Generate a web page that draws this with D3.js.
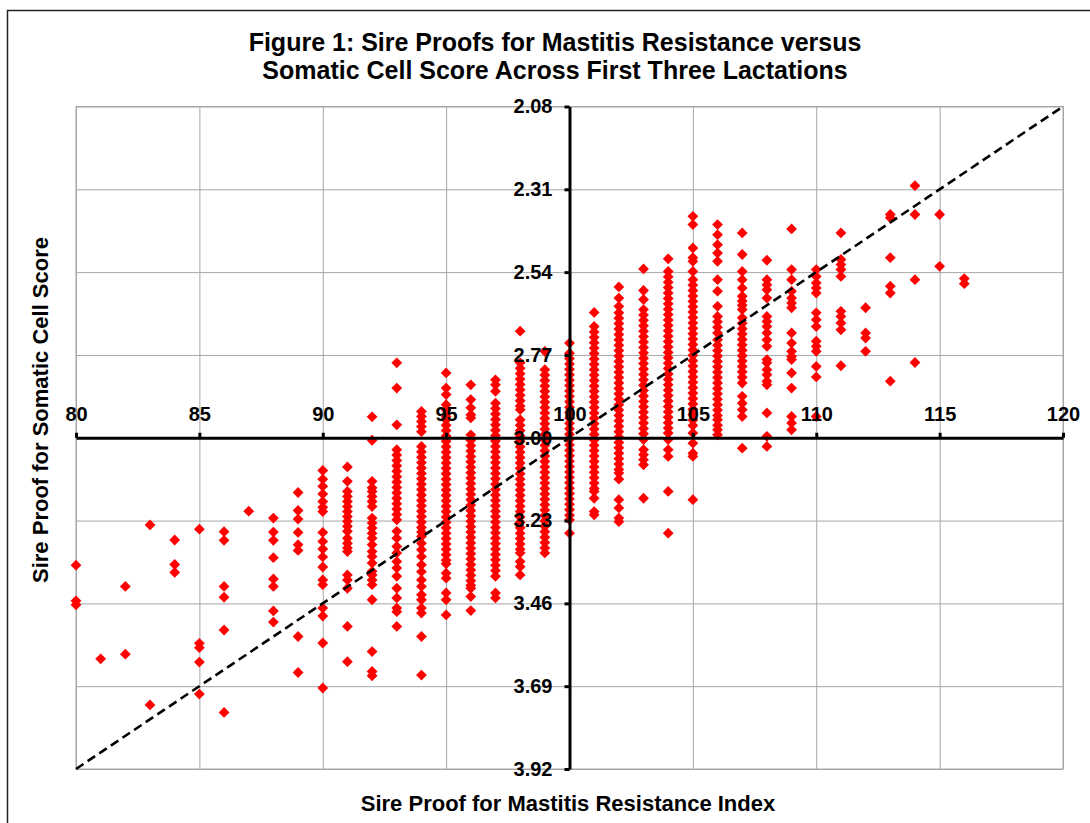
<!DOCTYPE html>
<html>
<head>
<meta charset="utf-8">
<script src="https://cdn.jsdelivr.net/npm/d3@7"></script>
<style>
  html, body { margin: 0; padding: 0; background: #fff; }
  svg { display: block; }
  text { font-family: "Liberation Sans", Arial, sans-serif; font-weight: bold; fill: #000; }
</style>
</head>
<body>
<svg id="chart" width="1090" height="823"></svg>
<script>
// ---- data ----
const titleLines = ["Figure 1: Sire Proofs for Mastitis Resistance versus",
                    "Somatic Cell Score Across First Three Lactations"];
const xTitle = "Sire Proof for Mastitis Resistance Index";
const yTitle = "Sire Proof for Somatic Cell Score";
const xTicks = [80, 85, 90, 95, 100, 105, 110, 115, 120];
const yTicks = [2.08, 2.31, 2.54, 2.77, 3.00, 3.23, 3.46, 3.69, 3.92];
const fitLine = [[80, 3.92], [120, 2.08]];

const columnX = [80, 81, 82, 83, 84, 85, 86, 87, 88, 89, 90, 91, 92, 93, 94, 95, 96, 97, 98,
                 99, 100, 101, 102, 103, 104, 105, 106, 107, 108, 109, 110, 111, 112, 113, 114, 115, 116];
const columnY = [
  [3.354, 3.453, 3.464],
  [3.614],
  [3.413, 3.601],
  [3.242, 3.742],
  [3.284, 3.352, 3.374],
  [3.254, 3.571, 3.583, 3.623, 3.712],
  [3.261, 3.285, 3.413, 3.443, 3.534, 3.763],
  [3.204],
  [3.223, 3.262, 3.285, 3.333, 3.392, 3.413, 3.481, 3.512],
  [3.152, 3.202, 3.226, 3.263, 3.297, 3.313, 3.552, 3.652],
  [3.091, 3.115, 3.135, 3.156, 3.177, 3.193, 3.205, 3.263, 3.288, 3.309, 3.331, 3.359, 3.395, 3.408, 3.473, 3.495, 3.570, 3.695],
  [3.081, 3.121, 3.149, 3.163, 3.177, 3.191, 3.205, 3.219, 3.232, 3.246, 3.260, 3.279, 3.293, 3.306, 3.316, 3.381, 3.395, 3.418, 3.524, 3.622],
  [2.942, 3.007, 3.121, 3.139, 3.149, 3.163, 3.177, 3.191, 3.223, 3.237, 3.251, 3.265, 3.279, 3.297, 3.316, 3.330, 3.348, 3.371, 3.381, 3.395, 3.408, 3.450, 3.594, 3.649, 3.661],
  [2.792, 2.862, 2.964, 3.033, 3.048, 3.063, 3.078, 3.093, 3.108, 3.123, 3.138, 3.153, 3.168, 3.183, 3.198, 3.213, 3.228,
   3.260, 3.279, 3.302, 3.320, 3.344, 3.362, 3.385, 3.418, 3.445, 3.473, 3.483, 3.524],
  [2.927, 2.941, 2.955, 2.969, 2.983, 3.024, 3.039, 3.054, 3.069, 3.084, 3.099, 3.114, 3.129, 3.144, 3.159, 3.174, 3.189,
   3.204, 3.219, 3.234, 3.249, 3.262, 3.274, 3.293, 3.311, 3.330, 3.353, 3.372, 3.395, 3.413, 3.436, 3.450, 3.473, 3.487, 3.552, 3.659],
  [2.820, 2.862, 2.880, 2.908, 2.922, 2.941, 2.950, 2.965, 2.980, 2.995, 3.010, 3.025, 3.040, 3.055, 3.070, 3.085, 3.100,
   3.115, 3.130, 3.145, 3.160, 3.175, 3.190, 3.205, 3.220, 3.235, 3.250, 3.265, 3.280, 3.295, 3.310, 3.325, 3.340, 3.350,
   3.376, 3.390, 3.431, 3.450, 3.492],
  [2.853, 2.894, 2.917, 2.936, 2.945, 2.992, 3.007, 3.022, 3.037, 3.052, 3.067, 3.082, 3.097, 3.112, 3.127, 3.142, 3.157,
   3.172, 3.187, 3.202, 3.217, 3.232, 3.247, 3.262, 3.277, 3.292, 3.307, 3.322, 3.337, 3.352, 3.367, 3.382, 3.397, 3.410,
   3.418, 3.441, 3.480],
  [2.839, 2.853, 2.871, 2.904, 2.919, 2.934, 2.949, 2.964, 2.979, 2.994, 3.009, 3.024, 3.039, 3.054, 3.069, 3.084, 3.099,
   3.114, 3.129, 3.144, 3.159, 3.174, 3.189, 3.204, 3.219, 3.234, 3.249, 3.264, 3.279, 3.294, 3.309, 3.324, 3.339, 3.354,
   3.369, 3.385, 3.431, 3.445],
  [2.704, 2.792, 2.807, 2.822, 2.837, 2.852, 2.867, 2.882, 2.897, 2.912, 2.922, 2.950, 2.965, 2.980, 2.995, 3.010, 3.025,
   3.040, 3.055, 3.070, 3.085, 3.100, 3.115, 3.130, 3.145, 3.160, 3.175, 3.190, 3.205, 3.220, 3.235, 3.250, 3.265, 3.280,
   3.295, 3.310, 3.320, 3.344, 3.358, 3.381],
  [2.760, 2.811, 2.826, 2.841, 2.856, 2.871, 2.886, 2.901, 2.916, 2.931, 2.946, 2.961, 2.976, 2.991, 3.006, 3.021, 3.036,
   3.051, 3.066, 3.081, 3.096, 3.111, 3.126, 3.141, 3.156, 3.171, 3.186, 3.201, 3.216, 3.231, 3.246, 3.261, 3.276, 3.291,
   3.306, 3.320],
  [2.737, 2.765, 2.780, 2.795, 2.810, 2.825, 2.840, 2.855, 2.870, 2.885, 2.900, 2.915, 2.930, 2.945, 2.960, 2.975, 2.990,
   3.005, 3.020, 3.035, 3.050, 3.065, 3.080, 3.095, 3.110, 3.125, 3.140, 3.155, 3.170, 3.185, 3.200, 3.215, 3.228, 3.265],
  [2.652, 2.691, 2.706, 2.721, 2.736, 2.751, 2.766, 2.781, 2.796, 2.811, 2.826, 2.841, 2.856, 2.871, 2.886, 2.901, 2.916,
   2.931, 2.946, 2.961, 2.976, 2.991, 3.006, 3.021, 3.036, 3.051, 3.066, 3.081, 3.096, 3.111, 3.126, 3.141, 3.149, 3.168,
   3.205, 3.214],
  [2.581, 2.612, 2.635, 2.653, 2.668, 2.683, 2.698, 2.713, 2.728, 2.743, 2.758, 2.773, 2.788, 2.803, 2.818, 2.833, 2.848,
   2.863, 2.878, 2.893, 2.908, 2.923, 2.938, 2.953, 2.968, 2.983, 2.998, 3.013, 3.028, 3.043, 3.058, 3.073, 3.088, 3.098,
   3.115, 3.172, 3.195, 3.223, 3.233],
  [2.531, 2.591, 2.616, 2.644, 2.659, 2.674, 2.689, 2.704, 2.719, 2.734, 2.749, 2.764, 2.779, 2.794, 2.809, 2.824, 2.839,
   2.854, 2.869, 2.884, 2.899, 2.914, 2.929, 2.944, 2.959, 2.974, 2.989, 3.005, 3.033, 3.047, 3.061, 3.075, 3.168],
  [2.503, 2.538, 2.553, 2.568, 2.583, 2.598, 2.613, 2.628, 2.643, 2.658, 2.673, 2.688, 2.703, 2.718, 2.733, 2.748, 2.763,
   2.778, 2.793, 2.808, 2.823, 2.838, 2.853, 2.868, 2.883, 2.898, 2.913, 2.928, 2.943, 2.958, 2.973, 2.987, 3.005, 3.033,
   3.052, 3.149, 3.265],
  [2.385, 2.408, 2.473, 2.500, 2.510, 2.538, 2.561, 2.576, 2.591, 2.606, 2.621, 2.636, 2.651, 2.666, 2.681, 2.696, 2.711,
   2.726, 2.741, 2.756, 2.771, 2.786, 2.801, 2.816, 2.831, 2.846, 2.861, 2.876, 2.891, 2.906, 2.921, 2.936, 2.951, 2.966,
   2.987, 3.015, 3.043, 3.052, 3.172],
  [2.408, 2.436, 2.464, 2.487, 2.510, 2.561, 2.593, 2.635, 2.663, 2.678, 2.693, 2.709, 2.728, 2.743, 2.758, 2.773, 2.788,
   2.803, 2.818, 2.833, 2.848, 2.863, 2.878, 2.893, 2.908, 2.923, 2.938, 2.950, 2.965, 2.978, 2.992],
  [2.431, 2.491, 2.538, 2.561, 2.584, 2.607, 2.620, 2.632, 2.644, 2.667, 2.682, 2.697, 2.712, 2.727, 2.742, 2.757, 2.772,
   2.787, 2.802, 2.817, 2.832, 2.848, 2.885, 2.904, 2.922, 2.941, 3.029],
  [2.507, 2.561, 2.575, 2.589, 2.612, 2.663, 2.677, 2.691, 2.709, 2.728, 2.746, 2.783, 2.792, 2.811, 2.825, 2.843, 2.853,
   2.931, 2.996, 3.024],
  [2.420, 2.533, 2.561, 2.593, 2.612, 2.626, 2.639, 2.709, 2.737, 2.760, 2.774, 2.783, 2.820, 2.862, 2.941, 2.959, 2.978],
  [2.533, 2.552, 2.570, 2.584, 2.598, 2.653, 2.672, 2.691, 2.732, 2.746, 2.760, 2.802, 2.831, 2.941],
  [2.431, 2.505, 2.519, 2.533, 2.552, 2.649, 2.663, 2.681, 2.700, 2.800],
  [2.639, 2.709, 2.723, 2.760],
  [2.380, 2.389, 2.500, 2.579, 2.598, 2.843],
  [2.300, 2.380, 2.561, 2.791],
  [2.380, 2.524],
  [2.558, 2.572]
];

// ---- drawing ----
(function () {
const svg = d3.select("#chart");
const W = 1090, H = 823;
svg.append("rect").attr("width", W).attr("height", H).attr("fill", "#fff");
// outer frame (extends off the right and bottom edges)
svg.append("rect").attr("x", 7.5).attr("y", 10.5).attr("width", 1200).attr("height", 1000)
  .attr("fill", "none").attr("stroke", "#222").attr("stroke-width", 1.5);

const pLeft = 76, pRight = 1063, pTop = 106.5, pBottom = 769;
const x = d3.scaleLinear().domain([80, 120]).range([pLeft, pRight]);
const y = d3.scaleLinear().domain([2.08, 3.92]).range([pTop, pBottom]);

// gridlines
const gridX = svg.append("g").attr("transform", `translate(0,${pBottom})`)
  .call(d3.axisBottom(x).tickValues(xTicks).tickSize(-(pBottom - pTop)).tickFormat(""));
const gridY = svg.append("g").attr("transform", `translate(${pLeft},0)`)
  .call(d3.axisLeft(y).tickValues(yTicks).tickSize(-(pRight - pLeft)).tickFormat(""));
[gridX, gridY].forEach(g => {
  g.select(".domain").remove();
  g.selectAll("line").attr("stroke", "#a6a6a6").attr("stroke-width", 1);
});
svg.append("rect").attr("x", pLeft).attr("y", pTop).attr("width", pRight - pLeft).attr("height", pBottom - pTop)
  .attr("fill", "none").attr("stroke", "#a6a6a6").attr("stroke-width", 1);

// points
const points = [];
columnX.forEach((cx, i) => columnY[i].forEach(v => points.push([cx, v])));
const diamond = "M0,-5.4L5.4,0L0,5.4L-5.4,0Z";
svg.append("g").selectAll("path").data(points).join("path")
  .attr("d", diamond)
  .attr("transform", d => `translate(${x(d[0])},${y(d[1])})`)
  .attr("fill", "#ff0000");

// axes crossing at (100, 3.00)
const xAxis = svg.append("g").attr("transform", `translate(0,${y(3.00)})`)
  .call(d3.axisTop(x).tickValues(xTicks).tickSizeInner(5).tickSizeOuter(0).tickPadding(12).tickFormat(d3.format("d")));
const yAxis = svg.append("g").attr("transform", `translate(${x(100)},0)`)
  .call(d3.axisLeft(y).tickValues(yTicks).tickSizeInner(5).tickSizeOuter(0).tickPadding(12).tickFormat(d3.format(".2f")));
[xAxis, yAxis].forEach(g => {
  g.select(".domain").attr("stroke", "#000").attr("stroke-width", 3);
  g.selectAll(".tick line").attr("stroke", "#000").attr("stroke-width", 3);
  g.selectAll(".tick text").attr("font-size", 20).attr("font-family", "Liberation Sans, Arial, sans-serif")
    .attr("font-weight", "bold").attr("fill", "#000");
});

// dashed trend line
svg.append("path").datum(fitLine)
  .attr("d", d3.line().x(d => x(d[0])).y(d => y(d[1])))
  .attr("fill", "none").attr("stroke", "#000").attr("stroke-width", 2.6).attr("stroke-dasharray", "9,5");

// titles
svg.append("g").selectAll("text").data(titleLines).join("text")
  .attr("x", 555).attr("y", (d, i) => 51 + i * 28)
  .attr("text-anchor", "middle").attr("font-size", 25).text(d => d);
svg.append("text").attr("x", 568).attr("y", 811).attr("text-anchor", "middle")
  .attr("font-size", 22).text(xTitle);
svg.append("text").attr("transform", "translate(48,410) rotate(-90)").attr("text-anchor", "middle")
  .attr("font-size", 22).text(yTitle);
})();
</script>
</body>
</html>
